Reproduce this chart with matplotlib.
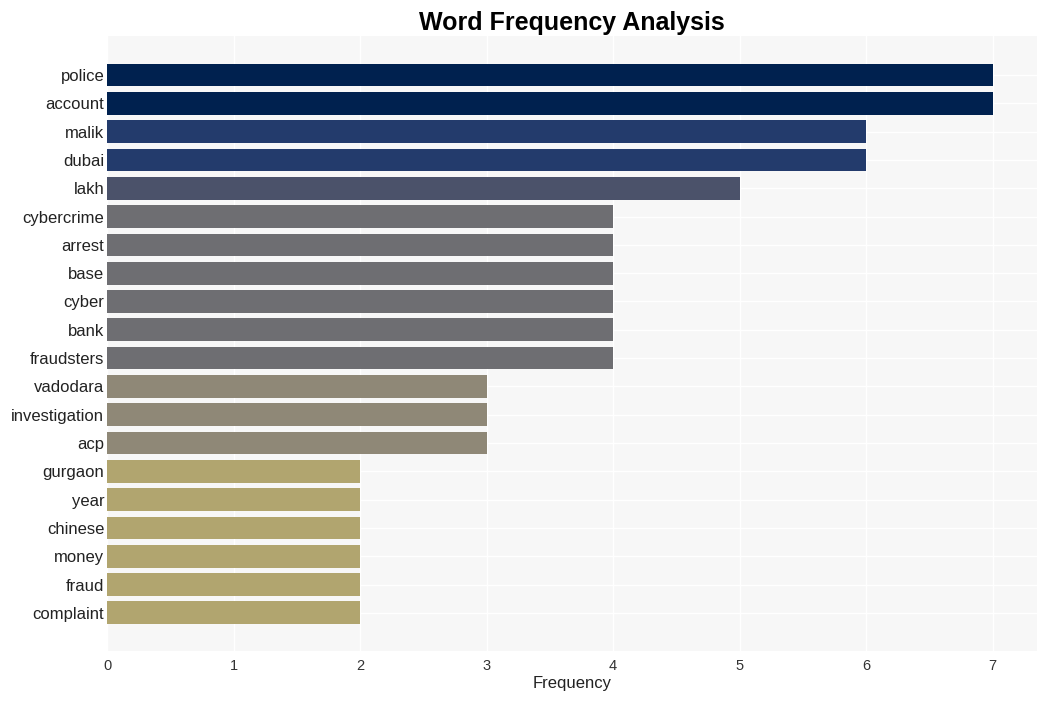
import matplotlib
matplotlib.use("Agg")
import matplotlib.pyplot as plt

plt.rcParams["font.family"] = ["Liberation Sans", "DejaVu Sans"]

words = ["police", "account", "malik", "dubai", "lakh", "cybercrime", "arrest", "base",
         "cyber", "bank", "fraudsters", "vadodara", "investigation", "acp", "gurgaon",
         "year", "chinese", "money", "fraud", "complaint"]
counts = [7, 7, 6, 6, 5, 4, 4, 4, 4, 4, 4, 3, 3, 3, 2, 2, 2, 2, 2, 2]
color_by_count = {7: "#00214f", 6: "#233b6c", 5: "#4b526a", 4: "#6e6e72",
                  3: "#8f8877", 2: "#b1a56f"}

fig = plt.figure(figsize=(10.47, 7.01), dpi=100)
ax = fig.add_axes([0.1022, 0.0713, 0.8883, 0.8773])
ax.set_facecolor("#f7f7f7")
ypos = list(range(len(words)))
ax.barh(ypos, counts, height=0.8, color=[color_by_count[c] for c in counts], zorder=3)
ax.set_yticks(ypos)
ax.set_yticklabels(words, fontsize=12, color="#222222")
ax.set_ylim(len(words) - 1 + 1.35, -1.38)
ax.set_xlim(0, 7.35)
ax.set_xticks(range(0, 8))
ax.tick_params(axis="x", labelsize=10.5, colors="#333333", length=0, pad=6)
ax.tick_params(axis="y", length=0, pad=2)
ax.grid(True, color="white", linewidth=1, zorder=0)
ax.set_axisbelow(True)
for s in ax.spines.values():
    s.set_visible(False)
ax.set_xlabel("Frequency", fontsize=12, color="#222222", labelpad=2)
ax.set_title("Word Frequency Analysis", fontsize=18, fontweight="bold", pad=4)
fig.savefig("out.png", dpi=100, facecolor="white")
